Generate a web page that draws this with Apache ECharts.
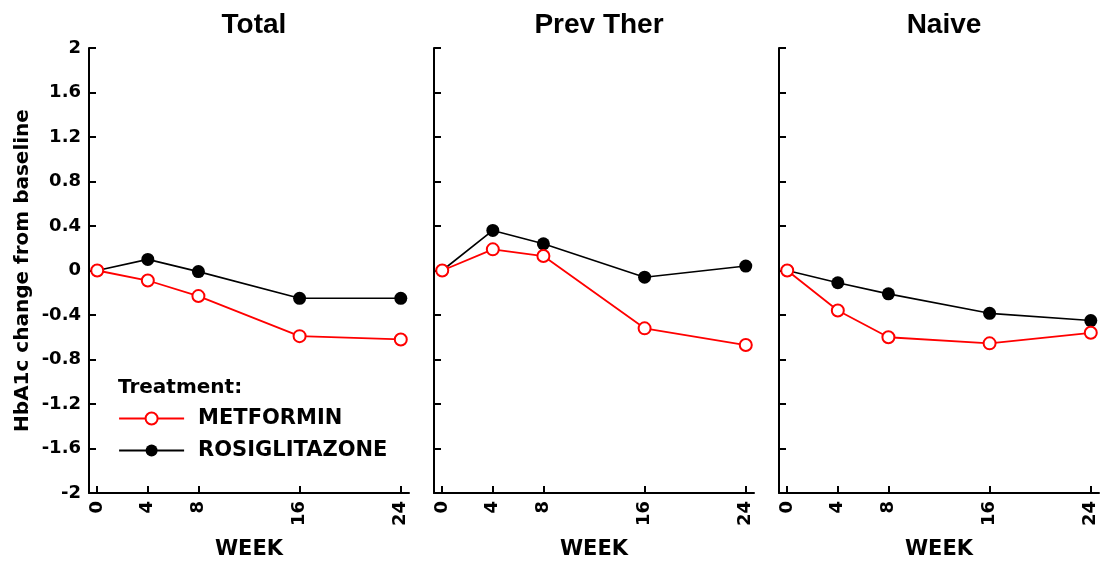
<!DOCTYPE html>
<html>
<head>
<meta charset="utf-8">
<script src="https://cdn.jsdelivr.net/npm/echarts@6/dist/echarts.min.js"></script>
<style>
  html, body { margin: 0; padding: 0; background: #fff; }
  #chart { width: 1108px; height: 566px; }
</style>
</head>
<body>
<div id="chart"></div>
<script>
// HbA1c change from baseline by week, per patient subgroup
const weeks = [0, 4, 8, 16, 24];
const panelTitles = ['Total', 'Prev Ther', 'Naive'];
const yTickValues = [-2, -1.6, -1.2, -0.8, -0.4, 0, 0.4, 0.8, 1.2, 1.6, 2];

const metforminTotal = [0, -0.09, -0.23, -0.59, -0.62];
const rosiglitazoneTotal = [0, 0.1, -0.01, -0.25, -0.25];
const metforminPrevTher = [0, 0.19, 0.13, -0.52, -0.67];
const rosiglitazonePrevTher = [0, 0.36, 0.24, -0.06, 0.04];
const metforminNaive = [0, -0.36, -0.6, -0.655, -0.56];
const rosiglitazoneNaive = [0, -0.11, -0.21, -0.385, -0.45];

const metforminSets = [metforminTotal, metforminPrevTher, metforminNaive];
const rosiglitazoneSets = [rosiglitazoneTotal, rosiglitazonePrevTher, rosiglitazoneNaive];

const BOLD = { fontFamily: 'DejaVu Sans', fontWeight: 'bold', color: '#000' };
const gridLefts = [89, 434, 779];
const gridWidth = 320;
const gridTop = 48;
const gridHeight = 445;

const pairs = (vals) => weeks.map((w, i) => [w, vals[i]]);

const grids = [], xAxes = [], yAxes = [], titles = [], series = [];
panelTitles.forEach((t, i) => {
  grids.push({ left: gridLefts[i], top: gridTop, width: gridWidth, height: gridHeight });
  titles.push({
    text: t,
    left: gridLefts[i] + gridWidth / 2,
    top: 6,
    textAlign: 'center',
    textStyle: { fontFamily: 'Liberation Sans', fontWeight: 'bold', fontSize: 28, color: '#000' }
  });
  xAxes.push({
    type: 'value', gridIndex: i, min: -0.65, max: 24.65,
    name: 'WEEK', nameLocation: 'middle', nameGap: 46,
    nameTextStyle: Object.assign({ fontSize: 21 }, BOLD),
    axisLine: { show: true, onZero: false, lineStyle: { color: '#000', width: 2 } },
    axisTick: { show: true, inside: true, length: 7, lineStyle: { color: '#000', width: 2 }, customValues: weeks },
    axisLabel: Object.assign({ fontSize: 18, rotate: 90, margin: 8, customValues: weeks }, BOLD),
    splitLine: { show: false }
  });
  yAxes.push({
    type: 'value', gridIndex: i, min: -2, max: 2, interval: 0.4,
    name: i === 0 ? 'HbA1c change from baseline' : '',
    nameLocation: 'middle', nameRotate: 90, nameGap: 56,
    nameTextStyle: Object.assign({ fontSize: 20 }, BOLD),
    axisLine: { show: true, onZero: false, lineStyle: { color: '#000', width: 2 } },
    axisTick: { show: true, inside: true, length: 7, lineStyle: { color: '#000', width: 2 }, customValues: yTickValues },
    axisLabel: Object.assign({ show: i === 0, fontSize: 18, margin: 8, customValues: yTickValues }, BOLD),
    splitLine: { show: false }
  });
  series.push({
    name: 'ROSIGLITAZONE', type: 'line', xAxisIndex: i, yAxisIndex: i,
    data: pairs(rosiglitazoneSets[i]),
    symbol: 'circle', symbolSize: 13,
    itemStyle: { color: '#000' },
    lineStyle: { color: '#000', width: 1.6 },
    z: 2, animation: false
  });
  series.push({
    name: 'METFORMIN', type: 'line', xAxisIndex: i, yAxisIndex: i,
    data: pairs(metforminSets[i]),
    symbol: 'emptyCircle', symbolSize: 12,
    itemStyle: { color: '#ff0000', borderColor: '#ff0000', borderWidth: 1.8 },
    lineStyle: { color: '#ff0000', width: 1.8 },
    z: 3, animation: false
  });
});

const chart = echarts.init(document.getElementById('chart'), null, { renderer: 'canvas' });
chart.setOption({
  backgroundColor: '#fff',
  animation: false,
  title: titles,
  grid: grids,
  xAxis: xAxes,
  yAxis: yAxes,
  legend: {
    data: ['METFORMIN', 'ROSIGLITAZONE'],
    orient: 'vertical', left: 118, top: 408, padding: 0,
    itemWidth: 65, itemHeight: 15, itemGap: 11,
    selectedMode: false,
    lineStyle: { width: 2.2 },
    textStyle: Object.assign({ fontSize: 21, padding: [0, 0, 0, 9] }, BOLD)
  },
  graphic: [{
    type: 'text', left: 118, top: 378,
    style: Object.assign({ text: 'Treatment:', font: 'bold 20px "DejaVu Sans"', fill: '#000' })
  }],
  series: series
});
</script>
</body>
</html>
